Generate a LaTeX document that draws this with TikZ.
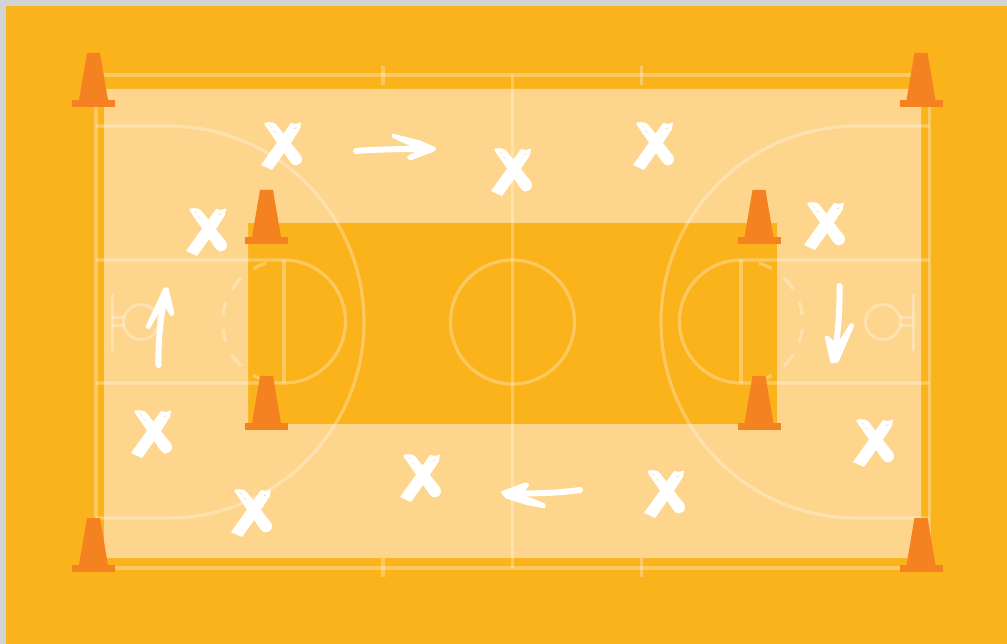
\documentclass[tikz,border=0pt]{standalone}
\definecolor{bgorange}{HTML}{FBB31C}
\definecolor{lightfloor}{HTML}{FED58C}
\definecolor{coneorange}{HTML}{F58220}
\definecolor{edgegrey}{HTML}{D1D3D4}
\tikzset{
  courtline/.style={draw=white,draw opacity=0.3,line width=3.2pt,fill=none},
  thinline/.style={draw=white,draw opacity=0.3,line width=3pt,fill=none},
  brush/.style={draw=white,line width=6pt,line cap=round,line join=round},
  headfill/.style={fill=white,draw=white,line width=1pt,line join=round,rounded corners=1pt},
  pics/cone/.style={code={
    \fill[coneorange] (-6.5,-54) -- (6.5,-54) -- (14.5,-7) -- (-14.5,-7) -- cycle;
    \fill[coneorange] (-21.5,-7) rectangle (21.5,0);
  }},
  pics/chalkx/.style={code={
    \begin{scope}[shift={(0,-2)}]
    \fill[white] (9,-21) -- (14,-20) -- (19,-21.5) -- (18,-15) -- (5,5) -- (-10,26) -- (-21,21) -- cycle;
    \fill[white,rounded corners=1.5pt] (-18.5,-21) -- (-14,-22) -- (-7,-21) -- (20,13) -- (19.5,19) -- (13,22) -- (9,19) -- cycle;
    \fill[lightfloor] (-13,-18.5) -- (-9.5,-16.5) -- (-11.5,-17) -- cycle;
    \fill[lightfloor] (15,-17) -- (11,-15) -- (13,-15.2) -- cycle;
    \fill[lightfloor] (-9,-13.5) -- (-6,-11.5) -- (-8,-12) -- cycle;
    \end{scope}
  }},
}
\begin{document}
\begin{tikzpicture}[x=1pt,y=-1pt]
\useasboundingbox (0,0) rectangle (1007,644);
\fill[edgegrey] (0,0) rectangle (1007,644);
\fill[bgorange] (6,6) rectangle (1007,644);
\fill[lightfloor,even odd rule] (104,89) rectangle (921,558) (248,223) rectangle (777,424);
% court lines
\draw[courtline] (96,75) rectangle (929.5,568);
\draw[courtline] (383,66) -- (383,85) (641.5,66) -- (641.5,85);
\draw[courtline] (383,558) -- (383,577) (641.5,558) -- (641.5,577);
\draw[courtline] (512.5,75) -- (512.5,568);
\draw[courtline] (512.5,322) circle[radius=62];
% left end
\draw[courtline] (96,260) -- (284,260) arc[start angle=-90,end angle=90,radius=61.5] -- (96,383);
\draw[courtline] (284,260) -- (284,383);
\foreach \a/\b in {161/173.5,134/148,107/120,186.5/199,212/226,240/253}
  \draw[courtline] ([shift={(284,322)}]\a:61.5) arc[start angle=\a,end angle=\b,radius=61.5];
\draw[courtline] (96,126) -- (168,126) arc[start angle=-90,end angle=90,radius=196] -- (96,518);
\draw[thinline] (141,322) circle[radius=17.5];
\draw[thinline] (112,294) -- (112,351);
\draw[thinline] (112,318) -- (125,318) (112,326) -- (125,326);
% right end
\draw[courtline] (929.5,260) -- (741,260) arc[start angle=270,end angle=90,radius=61.5] -- (929.5,383);
\draw[courtline] (741,260) -- (741,383);
\foreach \a/\b in {6.5/19,32/46,60/73,-6.5/-19,-32/-46,-60/-73}
  \draw[courtline] ([shift={(741,322)}]\a:61.5) arc[start angle=\a,end angle=\b,radius=61.5];
\draw[courtline] (929.5,126) -- (857,126) arc[start angle=270,end angle=90,radius=196] -- (929.5,518);
\draw[thinline] (883,322) circle[radius=17.5];
\draw[thinline] (913,294) -- (913,351);
\draw[thinline] (913,318) -- (900,318) (913,326) -- (900,326);
% cones
\foreach \px/\py in {93.5/107,921/107,266.5/244,759/244,266.5/430,759/430,93.5/572,921/572}
  \pic at (\px,\py) {cone};
% players
\foreach \px/\py in {282/146,512/172,654/146,207/232,825/226,152/434,874/443,252/513,421/478,665/494}
  \pic at (\px,\py) {chalkx};
% arrows
\draw[brush] (356,151) .. controls (380,149) and (410,149) .. (430,149);
\fill[headfill] (392,134) -- (420,141) -- (436,148) -- (434,151) -- (410,160) -- (407,157) -- (420,150) -- (392,137) -- cycle;
\draw[brush] (158.5,365) .. controls (158,340) and (161,315) .. (165,295);
\fill[headfill] (164,288) -- (168,288) -- (174,314) -- (171,316) -- (165,306) -- (160,310) -- (149,329) -- (146,327) -- cycle;
\draw[brush] (839.5,286) .. controls (840,310) and (838,335) .. (834,358);
\fill[headfill] (825,336) -- (829,337) -- (837,345) -- (851,323) -- (854,325) -- (838,362) -- (831,363) -- cycle;
\draw[brush] (580,490) .. controls (560,493) and (530,494) .. (510,493);
\fill[headfill] (501,492) -- (525,483) -- (529,484) -- (526,489) -- (520,494) -- (545,504) -- (545,508) -- (525,504) -- (506,498) -- cycle;
\end{tikzpicture}
\end{document}
